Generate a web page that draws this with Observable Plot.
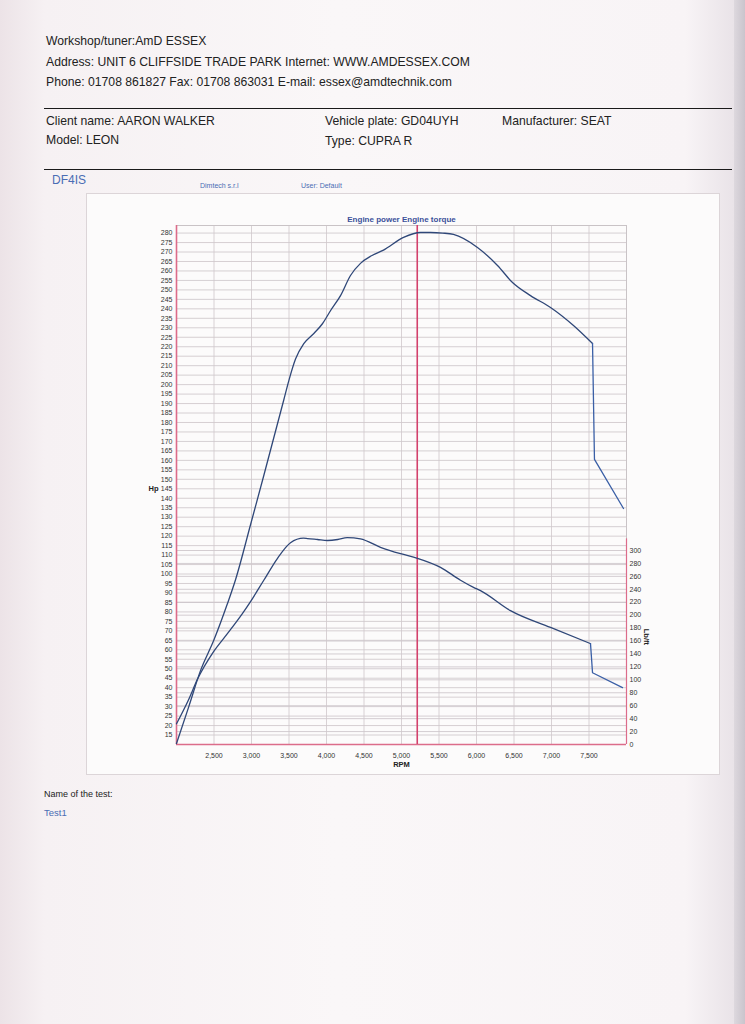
<!DOCTYPE html>
<html><head><meta charset="utf-8">
<script src="https://cdn.jsdelivr.net/npm/d3@7"></script>
<script src="https://cdn.jsdelivr.net/npm/@observablehq/plot@0.6"></script>
<style>
html,body{margin:0;padding:0;}
body{width:745px;height:1024px;position:relative;overflow:hidden;
 background:linear-gradient(90deg,#ece3e7 0%,#f6f1f3 6%,#faf7f8 45%,#f8f4f6 92%,#e9e3e8 98.5%,#cfcad2 100%);
 font-family:"Liberation Sans",Arial,sans-serif;}
.t{position:absolute;white-space:nowrap;color:#222;font-size:12.2px;line-height:13px;}
.b{color:#4a6db4;}
.hr{position:absolute;left:44px;width:688px;height:1.4px;background:#1a1a1a;}
#box{position:absolute;left:86px;top:193px;width:634px;height:582px;background:#fcfbfb;border:1px solid #dcd5d8;box-sizing:border-box;}
#chart{position:absolute;left:86px;top:193px;}
#edge{position:absolute;left:734px;top:0;width:11px;height:1024px;background:linear-gradient(90deg,#ddd8de,#c9c4cc);}
</style></head><body>
<div id="edge"></div>
<div class="t" style="left:46px;top:35px">Workshop/tuner:AmD ESSEX</div>
<div class="t" style="left:46px;top:56px">Address: UNIT 6 CLIFFSIDE TRADE PARK Internet: WWW.AMDESSEX.COM</div>
<div class="t" style="left:46px;top:76px">Phone: 01708 861827 Fax: 01708 863031 E-mail: essex@amdtechnik.com</div>
<div class="hr" style="top:108px"></div>
<div class="t" style="left:46px;top:115px">Client name: AARON WALKER</div>
<div class="t" style="left:325px;top:115px">Vehicle plate: GD04UYH</div>
<div class="t" style="left:502px;top:115px">Manufacturer: SEAT</div>
<div class="t" style="left:46px;top:134px">Model: LEON</div>
<div class="t" style="left:325px;top:135px">Type: CUPRA R</div>
<div class="hr" style="top:169px"></div>
<div class="t b" style="left:52px;top:174px;font-size:12px">DF4IS</div>
<div class="t b" style="left:200px;top:182px;font-size:7px;line-height:7px">Dimtech s.r.l</div>
<div class="t b" style="left:301px;top:182px;font-size:7px;line-height:7px">User: Default</div>
<div id="box"></div>
<div id="chart"></div>
<div class="t" style="left:44px;top:790px;font-size:9px;line-height:9px">Name of the test:</div>
<div class="t b" style="left:44px;top:808px;font-size:9.5px;line-height:9.5px">Test1</div>
<script>
// ---- data ----
const hpTicks = [15,20,25,30,35,40,45,50,55,60,65,70,75,80,85,90,95,100,105,110,115,120,125,130,135,140,145,150,155,160,165,170,175,180,185,190,195,200,205,210,215,220,225,230,235,240,245,250,255,260,265,270,275,280];
const torqueTicks = [0,20,40,60,80,100,120,140,160,180,200,220,240,260,280,300];
const rpmTicks = [2500,3000,3500,4000,4500,5000,5500,6000,6500,7000,7500];

// power run (smooth part) and the cut-off tail
const powerRpm = [2000,2164,2320,2497,2676,2787,2987,3164,3431,3497,3587,3697,3831,3943,4053,4187,4320,4453,4600,4760,5027,5253,5387,5550,5693,6013,6280,6480,6720,6987,7293,7547];
const powerHp  = [10.5,30,49,65,84,97,126,152,192,202,213.5,221.6,227,232,239,247,257.6,264,268,271,277.7,280.3,280.3,280,279.3,272.4,262.9,253.9,247,240.7,231.2,221.7];
const powerTailRpm = [7547,7573,7960];
const powerTailHp  = [221.7,160.5,134.6];

const torqueRpm  = [2000,2164,2276,2497,2676,2876,2987,3164,3347,3520,3693,3747,3880,4013,4150,4276,4453,4720,4987,5213,5520,5787,5960,6053,6453,6987,7520];
const torqueLbft = [32,70,100,144,171,202,221,254,288,312,319,318.5,317,315.5,317,320,318,305,295,288,274,254,243,238,207,181,156];
const torqueTailRpm  = [7520,7547,7947];
const torqueTailLbft = [156,111,88];

const peakRpm = 5210;
const title = "Engine power Engine torque";

// torque (lb/ft) shares the Hp scale: 300 lb/ft sits at ~112.4 Hp
const toHp = t => 10 + t * 0.3414;
const fromHp = h => (h - 10) / 0.3414;

const power = powerRpm.map((r, i) => ({rpm: r, v: powerHp[i]}));
const powerTail = powerTailRpm.map((r, i) => ({rpm: r, v: powerTailHp[i]}));
const torque = torqueRpm.map((r, i) => ({rpm: r, v: toHp(torqueLbft[i])}));
const torqueTail = torqueTailRpm.map((r, i) => ({rpm: r, v: toHp(torqueTailLbft[i])}));

const navy = "#2f4778";
const pink = "#dc6c8a";

const chart = Plot.plot({
  width: 634, height: 582,
  marginLeft: 90, marginRight: 94, marginTop: 32, marginBottom: 31,
  style: {fontFamily: "Liberation Sans, Arial, sans-serif", background: "transparent", overflow: "visible"},
  x: {domain: [2000, 8000]},
  y: {domain: [10, 284]},
  marks: [
    Plot.ruleY(hpTicks, {stroke: "#cbc4c8", strokeWidth: 0.8}),
    Plot.ruleY(torqueTicks.map(toHp), {stroke: "#c9c2c6", strokeWidth: 0.8}),
    Plot.ruleX(rpmTicks, {stroke: "#cfc8cc", strokeWidth: 0.8}),
    Plot.ruleY([284], {stroke: "#c9c3c6"}),
    Plot.ruleX([8000], {stroke: "#c9c3c6"}),
    Plot.ruleX([8000], {y1: toHp(0), y2: toHp(318), stroke: pink, strokeWidth: 1.2}),
    Plot.ruleX([2000], {stroke: pink, strokeWidth: 1.6}),
    Plot.ruleY([10], {stroke: pink, strokeWidth: 1.6}),
    Plot.ruleX([peakRpm], {stroke: "#d3416c", strokeWidth: 1.6}),
    Plot.line(torque, {x: "rpm", y: "v", stroke: navy, strokeWidth: 1.3, curve: "monotone-x"}),
    Plot.line(torqueTail, {x: "rpm", y: "v", stroke: "#3a5fa6", strokeWidth: 1.3}),
    Plot.line(power, {x: "rpm", y: "v", stroke: navy, strokeWidth: 1.3, curve: "monotone-x"}),
    Plot.line(powerTail, {x: "rpm", y: "v", stroke: "#3a5fa6", strokeWidth: 1.3}),
    Plot.axisY(hpTicks, {anchor: "left", tickSize: 0, tickPadding: 4, fontSize: 7, fill: "#333", label: null}),
    Plot.axisY(torqueTicks.map(toHp), {anchor: "right", tickSize: 0, tickPadding: 3, fontSize: 7, fill: "#333", label: null, tickFormat: d => String(Math.round(fromHp(d)))}),
    Plot.axisX(rpmTicks, {tickSize: 0, tickPadding: 9, fontSize: 7, fill: "#333", label: null, tickFormat: d3.format(",")}),
    Plot.text([title], {frameAnchor: "top", dy: -9, fontSize: 8, fontWeight: "bold", fill: "#3b519a"}),
    Plot.text(["Hp"], {frameAnchor: "left", dx: -28, dy: 4, fontSize: 7.5, fontWeight: "bold", fill: "#222"}),
    Plot.text(["RPM"], {x: [5000], frameAnchor: "bottom", dy: 22, fontSize: 7.5, fontWeight: "bold", fill: "#222"}),
    Plot.text(["Lb/ft"], {frameAnchor: "right", dx: 20, dy: 160, rotate: 90, fontSize: 7.5, fontWeight: "bold", fill: "#222"})
  ]
});
document.getElementById("chart").appendChild(chart);
</script>
</body></html>
